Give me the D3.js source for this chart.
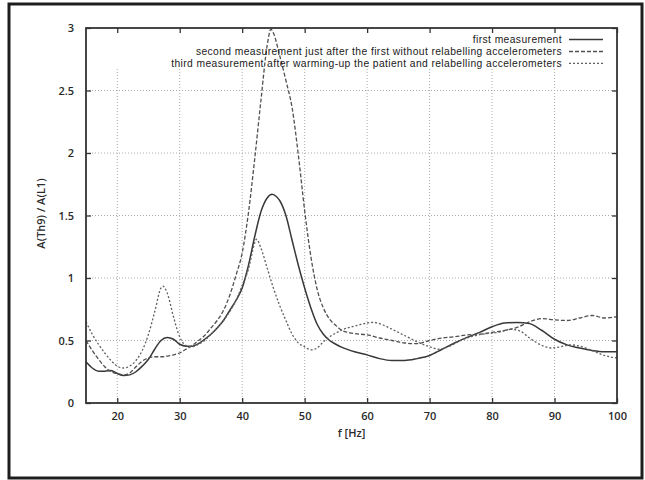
<!DOCTYPE html>
<html>
<head>
<meta charset="utf-8">
<script src="https://cdn.jsdelivr.net/npm/d3@7"></script>
<style>
  body { margin: 0; background: #fff; }
  svg { display: block; }
  text { font-family: "Open Sans", "Liberation Sans", sans-serif; fill: #2a2a2a; font-weight: 600; }
  .legend text { font-family: "Liberation Sans", Arial, sans-serif; font-weight: normal; fill: #1a1a1a; letter-spacing: 0.4px; }
  .grid line { stroke: #aaa; stroke-width: 1; stroke-dasharray: 1,2; }
</style>
</head>
<body>
<svg width="645" height="480"></svg>
<script>
// first measurement
var first_f = [15, 16, 17, 18, 19, 20, 21, 22, 23, 24, 25, 26, 27, 28, 29, 30, 31, 32, 33, 34, 35, 36, 37, 38, 39, 40,
    41, 42, 43, 44, 44.8, 45.5, 46, 47, 48, 49, 50, 51, 52, 53, 54, 55, 56, 58, 60, 62, 64, 66, 68, 70, 72, 74, 76, 78,
    80, 82, 84, 86, 88, 90, 92, 94, 96, 98, 100];
var first_a = [0.33, 0.28, 0.255, 0.255, 0.26, 0.235, 0.22, 0.225, 0.25, 0.295, 0.35, 0.43, 0.50, 0.525, 0.51, 0.47,
    0.455, 0.455, 0.475, 0.51, 0.55, 0.60, 0.66, 0.74, 0.82, 0.92, 1.10, 1.33, 1.53, 1.64, 1.67, 1.65, 1.62, 1.50, 1.30,
    1.10, 0.92, 0.76, 0.63, 0.55, 0.50, 0.47, 0.445, 0.41, 0.385, 0.355, 0.34, 0.34, 0.355, 0.38, 0.43, 0.48, 0.525,
    0.565, 0.61, 0.64, 0.645, 0.635, 0.58, 0.51, 0.465, 0.44, 0.42, 0.41, 0.41];

// second measurement
var second_f = [15, 16, 17, 18, 19, 20, 21, 22, 23, 24, 25, 26, 27, 28, 29, 30, 31, 32, 33, 34, 35, 36, 37, 38, 39, 40,
    41, 42, 43, 44, 44.6, 45, 46, 47, 48, 49, 50, 51, 52, 53, 54, 55, 56, 57, 58, 60, 62, 64, 66, 68, 70, 72, 74, 76, 78,
    80, 82, 84, 86, 88, 90, 92, 94, 96, 98, 100];
var second_a = [0.50, 0.42, 0.35, 0.29, 0.25, 0.235, 0.225, 0.24, 0.29, 0.335, 0.36, 0.37, 0.37, 0.375, 0.385, 0.40,
    0.43, 0.46, 0.50, 0.54, 0.60, 0.66, 0.74, 0.86, 1.02, 1.20, 1.52, 1.95, 2.42, 2.86, 2.99, 2.96, 2.78, 2.58, 2.36,
    1.98, 1.54, 1.17, 0.91, 0.76, 0.67, 0.62, 0.58, 0.565, 0.555, 0.545, 0.52, 0.50, 0.48, 0.475, 0.50, 0.52, 0.53,
    0.545, 0.55, 0.565, 0.58, 0.605, 0.65, 0.675, 0.665, 0.66, 0.68, 0.70, 0.68, 0.69];

// third measurement
var third_f = [15, 16, 17, 18, 19, 20, 21, 22, 23, 24, 25, 26, 27, 27.3, 28, 29, 30, 31, 32, 33, 34, 35, 36, 37, 38,
    39, 40, 41, 42, 42.3, 43, 44, 45, 46, 47, 48, 49, 50, 51, 52, 53, 54, 55, 56, 58, 60, 61, 62, 64, 66, 68, 70, 71.5,
    73, 75, 77, 79, 81, 83, 84.5, 86, 88, 89.5, 91, 92.5, 94, 96, 98, 100];
var third_a = [0.65, 0.55, 0.47, 0.40, 0.34, 0.295, 0.28, 0.295, 0.34, 0.42, 0.55, 0.73, 0.92, 0.935, 0.88, 0.69, 0.53,
    0.46, 0.45, 0.47, 0.50, 0.55, 0.60, 0.66, 0.73, 0.82, 0.94, 1.07, 1.28, 1.31, 1.24, 1.08, 0.92, 0.78, 0.66, 0.55,
    0.48, 0.45, 0.425, 0.44, 0.49, 0.53, 0.56, 0.585, 0.615, 0.64, 0.645, 0.635, 0.59, 0.54, 0.49, 0.45, 0.43, 0.45,
    0.50, 0.535, 0.555, 0.565, 0.59, 0.575, 0.52, 0.46, 0.44, 0.45, 0.465, 0.455, 0.42, 0.38, 0.36];

var x_ticks = [20, 30, 40, 50, 60, 70, 80, 90, 100];
var y_ticks = [0, 0.5, 1, 1.5, 2, 2.5, 3];
var x_tick_labels = ['20', '30', '40', '50', '60', '70', '80', '90', '100'];
var y_tick_labels = ['0', '0.5', '1', '1.5', '2', '2.5', '3'];

var series_names = [
    'first measurement',
    'second measurement just after the first without relabelling accelerometers',
    'third measurement after warming-up the patient and relabelling accelerometers'
];

var line_styles = [
    {dash: null, color: '#383838', width: 1.5},
    {dash: '4,2', color: '#505050', width: 1.3},
    {dash: '2,2', color: '#606060', width: 1.3}
];

(function() {
    var canvas = getCanvas();
    var axes = getAxes(canvas);
    addGrid(canvas, axes);
    addLines(canvas, axes);
    addFrame(canvas, axes);
    addLegend(canvas);
})();

function getCanvas() {
    var svg = d3.select('svg');
    // outer border of the figure
    svg.append('rect')
        .attr('x', 9).attr('y', 4).attr('width', 633).attr('height', 474)
        .attr('fill', 'none').attr('stroke', '#1e1e1e').attr('stroke-width', 3);

    var margin = {top: 28, left: 86};
    var g = svg.append('g').attr('transform', 'translate(' + margin.left + ',' + margin.top + ')');
    g.width = 617 - 86;
    g.height = 403 - 28;
    return g;
}

function getAxes(canvas) {
    return {
        x: d3.scaleLinear().domain([15, 100]).range([0, canvas.width]),
        y: d3.scaleLinear().domain([0, 3]).range([canvas.height, 0])
    };
}

function addGrid(canvas, axes) {
    var legend_bottom = 40; // vertical grid stops under the key
    canvas.append('g').attr('class', 'grid')
        .selectAll('line').data(x_ticks.slice(0, -1)).enter().append('line')
        .attr('x1', function(d) { return axes.x(d); })
        .attr('x2', function(d) { return axes.x(d); })
        .attr('y1', canvas.height)
        .attr('y2', legend_bottom);

    canvas.append('g').attr('class', 'grid')
        .selectAll('line').data(y_ticks.slice(1, -1)).enter().append('line')
        .attr('x1', 0).attr('x2', canvas.width)
        .attr('y1', function(d) { return axes.y(d); })
        .attr('y2', function(d) { return axes.y(d); });
}

function addFrame(canvas, axes) {
    var tick = 5;
    var axisStyle = function(g) {
        g.select('.domain').remove();
        g.selectAll('.tick line').attr('stroke', '#333').attr('stroke-width', 1.3);
        g.selectAll('.tick text').style('font-size', '11px').attr('fill', '#2a2a2a');
    };

    canvas.append('g')
        .attr('transform', 'translate(0,' + canvas.height + ')')
        .call(d3.axisBottom(axes.x).tickValues(x_ticks).tickSize(-tick).tickPadding(9)
            .tickFormat(function(d, i) { return x_tick_labels[i]; }))
        .call(axisStyle);
    canvas.append('g')
        .call(d3.axisTop(axes.x).tickValues(x_ticks).tickSize(-tick).tickFormat(''))
        .call(axisStyle);
    canvas.append('g')
        .call(d3.axisLeft(axes.y).tickValues(y_ticks).tickSize(-tick).tickPadding(12)
            .tickFormat(function(d, i) { return y_tick_labels[i]; }))
        .call(axisStyle);
    canvas.append('g')
        .attr('transform', 'translate(' + canvas.width + ',0)')
        .call(d3.axisRight(axes.y).tickValues(y_ticks).tickSize(-tick).tickFormat(''))
        .call(axisStyle);

    canvas.append('rect')
        .attr('width', canvas.width).attr('height', canvas.height)
        .attr('fill', 'none').attr('stroke', '#333').attr('stroke-width', 1.8);

    canvas.append('text')
        .attr('x', canvas.width / 2)
        .attr('y', canvas.height + 34)
        .style('text-anchor', 'middle')
        .style('font-size', '11px')
        .text('f [Hz]');

    canvas.append('text')
        .attr('transform', 'rotate(-90)')
        .attr('x', 0 - canvas.height / 2 + 2)
        .attr('y', -41)
        .style('text-anchor', 'middle')
        .style('font-size', '11px')
        .text('A(Th9) / A(L1)');
}

function addLines(canvas, axes) {
    var sets = [[first_f, first_a], [second_f, second_a], [third_f, third_a]];
    var line = d3.line()
        .x(function(d) { return axes.x(d[0]); })
        .y(function(d) { return axes.y(d[1]); })
        .curve(d3.curveMonotoneX);

    sets.forEach(function(s, i) {
        var pts = s[0].map(function(f, j) { return [f, s[1][j]]; });
        canvas.append('path')
            .datum(pts)
            .attr('d', line)
            .attr('fill', 'none')
            .attr('stroke', line_styles[i].color)
            .attr('stroke-width', line_styles[i].width)
            .attr('stroke-dasharray', line_styles[i].dash);
    });
}

function addLegend(canvas) {
    var text_right = 562 - 86;
    var sample = [569 - 86, 603 - 86];
    var rows = [11.5, 23.5, 35.3];
    var legend = canvas.selectAll('.legend').data(series_names).enter().append('g').attr('class', 'legend');

    legend.append('text')
        .attr('x', text_right)
        .attr('y', function(d, i) { return rows[i]; })
        .attr('dy', '0.35em')
        .style('text-anchor', 'end')
        .style('font-size', '10.3px')
        .text(function(d) { return d; });

    legend.append('line')
        .attr('x1', sample[0]).attr('x2', sample[1])
        .attr('y1', function(d, i) { return rows[i]; })
        .attr('y2', function(d, i) { return rows[i]; })
        .attr('stroke', function(d, i) { return line_styles[i].color; })
        .attr('stroke-width', function(d, i) { return line_styles[i].width; })
        .attr('stroke-dasharray', function(d, i) { return line_styles[i].dash; });
}
</script>
</body>
</html>
